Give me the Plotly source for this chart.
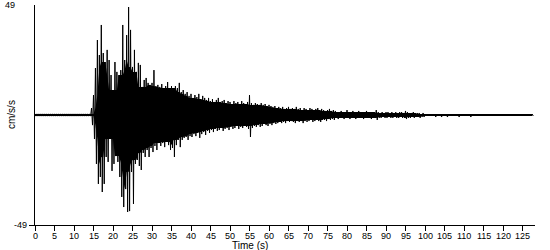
import plotly.graph_objects as go

# Sampling of the envelope: one (peak, trough) pair every 0.5 s, starting at t = 0 s
t0 = 0.0
dt = 0.5

# Pre-event noise, t = 0 .. 14 s
pre_upper = [0.5] * 29
pre_lower = [-0.5] * 29

# Strong motion, t = 14.5 .. 39.5 s
strong_upper = [3.1, 8.9, 20.9, 33.4, 26.7, 40.1, 27.6, 23.6, 29.0, 24.5,
                17.8, 11.1, 23.6, 19.2, 17.8, 20.0, 40.1, 24.5, 35.6, 48.1,
                37.9, 21.4, 29.0, 19.2, 23.2, 22.3, 12.5, 15.6, 16.5, 14.3,
                13.4, 14.3, 20.0, 12.9, 13.4, 12.5, 13.8, 12.0, 12.9, 14.7,
                12.0, 12.9, 12.0, 12.9, 12.0, 14.3, 10.2, 11.1, 9.4, 10.2, 8.5]
strong_lower = [-4.5, -10.7, -21.8, -30.7, -27.6, -34.3, -30.7, -18.7, -20.9, -10.7,
                -24.9, -21.8, -18.3, -20.9, -27.6, -36.5, -41.0, -33.0, -43.2, -42.8,
                -25.4, -39.6, -21.8, -20.0, -22.7, -24.5, -16.9, -18.7, -15.6, -18.7,
                -14.7, -16.5, -13.8, -15.6, -12.5, -13.8, -12.5, -14.3, -12.0, -13.4,
                -15.6, -14.7, -18.7, -13.4, -11.1, -14.3, -11.1, -10.2, -9.8, -11.1, -9.4]

# Coda, t = 40 .. 65.5 s
coda_upper = [9.4, 7.6, 8.9, 8.0, 9.4, 7.1, 8.5, 7.6, 6.7, 7.6,
              6.2, 7.1, 5.8, 6.7, 7.6, 5.8, 6.2, 6.7, 5.3, 6.2,
              5.8, 4.9, 6.2, 5.3, 5.8, 4.9, 6.2, 5.3, 4.9, 5.8,
              8.9, 5.3, 4.5, 5.3, 4.9, 4.5, 5.3, 4.5, 4.9, 4.0,
              4.5, 4.0, 3.6, 4.0, 3.1, 3.6, 3.1, 3.6, 2.7, 3.1, 3.6, 2.7]
coda_lower = [-9.8, -8.5, -9.4, -8.0, -10.2, -8.5, -7.6, -8.9, -7.1, -8.0,
              -6.7, -7.6, -6.2, -7.1, -6.7, -5.8, -7.1, -6.2, -5.8, -6.7,
              -5.3, -6.2, -5.8, -4.9, -6.2, -5.3, -5.8, -4.9, -5.3, -6.2,
              -9.8, -5.8, -4.9, -5.3, -4.5, -5.3, -4.9, -4.0, -4.5, -4.9,
              -4.0, -4.5, -3.6, -4.0, -3.6, -3.1, -3.6, -3.1, -3.6, -2.7, -3.1, -2.7]

# Late coda, t = 66 .. 99.5 s
late_upper = [3.1, 2.7, 3.6, 2.7, 3.1, 2.2, 3.1, 2.7, 2.2, 3.1, 2.7, 2.2, 2.7, 3.1, 2.2, 2.7,
              2.2, 1.8, 2.2, 2.7, 1.8, 2.2, 1.8, 1.3,
              1.3, 1.8, 1.3, 1.3, 2.2, 1.3, 1.3, 1.8, 1.3, 1.3, 1.8, 1.3, 1.3, 1.3, 1.8, 1.3, 1.3, 1.3,
              1.3, 2.2, 1.3, 0.9, 1.3, 0.9, 1.3, 1.3, 0.9, 1.3, 0.9, 1.3, 0.9, 1.3, 1.3, 0.9,
              1.8, 1.3, 0.9, 0.9, 1.3, 0.9, 0.9, 0.9, 0.4, 0.9]
late_lower = [-3.1, -3.6, -2.7, -3.1, -2.7, -3.6, -2.7, -3.1, -2.7, -2.2, -3.1, -2.7, -2.2, -2.7, -3.1, -2.2,
              -2.2, -2.7, -1.8, -2.2, -1.8, -2.2, -1.3, -1.8,
              -1.3, -1.3, -1.8, -1.3, -1.3, -1.8, -1.3, -1.3, -1.8, -1.3, -1.3, -1.3, -1.8, -1.3, -1.3, -1.3, -1.8, -1.3,
              -1.3, -2.2, -1.3, -1.3, -0.9, -1.3, -1.3, -0.9, -1.3, -1.3, -0.9, -1.3, -1.3, -0.9, -1.3, -1.3,
              -1.8, -1.3, -1.3, -0.9, -1.3, -0.9, -0.9, -1.3, -0.9, -0.9]

# Tail, t = 100 .. 127.5 s
tail_upper = [0.4] * 56
tail_lower = [-0.4, -0.4, -0.4, -0.4, -0.4, -0.9, -0.4, -0.4, -0.9, -0.4,
              -0.4, -0.9, -0.4, -0.4, -0.4, -0.4, -0.4, -0.9, -0.4, -0.4,
              -0.4, -0.4, -0.4, -0.9, -0.4, -0.4, -0.4, -0.4, -0.4, -0.4,
              -0.4, -0.4, -0.4, -0.4, -0.4, -0.4, -0.4, -0.4, -0.4, -0.4,
              -0.4, -0.4, -0.4, -0.4, -0.4, -0.4, -0.4, -0.4, -0.4, -0.4,
              -0.4, -0.4, -0.4, -0.4, -0.4, -0.4]

x_ticks = list(range(0, 130, 5))
y_limit = 49

upper = pre_upper + strong_upper + coda_upper + late_upper + tail_upper
lower = pre_lower + strong_lower + coda_lower + late_lower + tail_lower
n = len(upper)

t_up = [t0 + i * dt for i in range(n)]
t_lo = [t + dt / 2 for t in t_up]

# solid core of the record: level reached by every oscillation in a +-1 s window
core_up = [min(upper[max(0, i - 2):i + 3]) for i in range(n)]
core_lo = [max(lower[max(0, i - 2):i + 3]) for i in range(n)]

xs, ys = [], []
for tu, tl, u, l in zip(t_up, t_lo, upper, lower):
    xs += [tu, tl]
    ys += [u, l]

fig = go.Figure()
fig.add_trace(go.Scatter(x=t_up, y=core_up, mode="lines", line=dict(width=0, color="black"),
                         hoverinfo="skip"))
fig.add_trace(go.Scatter(x=t_up, y=core_lo, mode="lines", line=dict(width=0, color="black"),
                         fill="tonexty", fillcolor="black", hoverinfo="skip"))
# the oscillating trace itself
fig.add_trace(go.Scatter(x=xs, y=ys, mode="lines",
                         line=dict(color="black", width=1), hoverinfo="skip"))

family = "Liberation Sans, Arial, sans-serif"
font = dict(family=family, size=9, color="black")

annotations = [
    dict(text=str(v), xref="x", yref="paper", x=v, y=0, yshift=-11,
         xanchor="center", yanchor="middle", showarrow=False, font=font)
    for v in x_ticks
]
annotations += [
    dict(text=str(y_limit), xref="paper", yref="paper", x=-0.036, y=1.0,
         xanchor="right", yanchor="middle", showarrow=False, font=font),
    dict(text=str(-y_limit), xref="paper", yref="paper", x=-0.012, y=0.0,
         xanchor="right", yanchor="middle", showarrow=False, font=font),
    dict(text="cm/s/s", xref="paper", yref="paper", x=-0.048, y=0.5, textangle=-90,
         xanchor="center", yanchor="middle", showarrow=False,
         font=dict(family=family, size=10, color="black")),
    dict(text="Time (s)", xref="paper", yref="paper", x=0.43, y=-0.093,
         xanchor="center", yanchor="middle", showarrow=False,
         font=dict(family=family, size=10, color="black")),
]

fig.update_layout(
    width=550, height=250,
    margin=dict(l=35, r=15, t=5, b=25),
    paper_bgcolor="white", plot_bgcolor="white",
    showlegend=False,
    font=font,
    xaxis=dict(range=[0, 128.2], tickvals=x_ticks, showticklabels=False,
               showline=True, linecolor="black", linewidth=1, ticks="outside", ticklen=5,
               tickcolor="black", showgrid=False, zeroline=False),
    yaxis=dict(range=[-y_limit, y_limit], tickvals=[-y_limit], showticklabels=False,
               showline=True, linecolor="black", linewidth=1, ticks="outside", ticklen=5,
               tickcolor="black", showgrid=False, zeroline=False),
    annotations=annotations,
)

fig.write_html("out.html")
